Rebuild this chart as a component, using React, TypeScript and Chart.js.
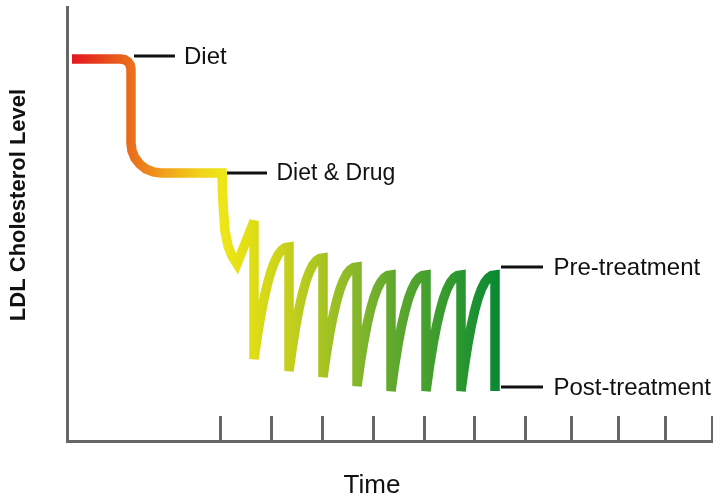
import React, { useEffect, useRef } from "react";
import { Chart, registerables } from "chart.js";

Chart.register(...registerables);

// Diet phase: level falls from the starting value to the first plateau
const dietTime = [1.0, 10.8, 11.57, 12.21, 12.65, 12.8, 12.8, 13.0, 13.6, 14.56, 15.8, 17.25, 18.8, 31.0];
const dietLevel = [95.5, 95.5, 95.31, 94.77, 93.96, 93.0, 74.5, 72.56, 70.75, 69.2, 68.0, 67.26, 67.0, 67.0];

// Diet & drug phase: first decline and first peak
const drugStartTime = [31.1, 31.3, 31.6, 32.2, 33.0, 34.0, 37.4, 37.4];
const drugStartLevel = [62.5, 57.5, 52.5, 48.75, 46.25, 44.25, 55.0, 20.5];

// Repeated post-treatment -> pre-treatment recovery cycles
const cycleTime = [
  38.1, 38.8, 39.5, 40.2, 40.9, 41.6, 42.3, 43.0, 43.7, 44.4, 44.4,
  45.08, 45.76, 46.44, 47.12, 47.8, 48.48, 49.16, 49.84, 50.52, 51.2, 51.2,
  51.88, 52.56, 53.24, 53.92, 54.6, 55.28, 55.96, 56.64, 57.32, 58.0, 58.0,
  58.68, 59.36, 60.04, 60.72, 61.4, 62.08, 62.76, 63.44, 64.12, 64.8, 64.8,
  65.5, 66.2, 66.9, 67.6, 68.3, 69.0, 69.7, 70.4, 71.1, 71.8, 71.8,
  72.5, 73.2, 73.9, 74.6, 75.3, 76.0, 76.7, 77.4, 78.1, 78.8, 78.8,
  79.48, 80.16, 80.84, 81.52, 82.2, 82.88, 83.56, 84.24, 84.92, 85.6, 85.6,
];
const cycleLevel = [
  26.52, 31.73, 36.18, 39.85, 42.82, 45.08, 46.74, 47.8, 48.36, 48.5, 17.5,
  23.57, 28.83, 33.32, 37.02, 40.02, 42.3, 43.97, 45.04, 45.61, 45.75, 16.0,
  21.91, 27.03, 31.4, 35.0, 37.92, 40.15, 41.77, 42.81, 43.36, 43.5, 13.75,
  19.72, 24.88, 29.29, 32.93, 35.87, 38.11, 39.75, 40.81, 41.36, 41.5, 12.5,
  18.74, 24.13, 28.74, 32.54, 35.61, 37.96, 39.67, 40.78, 41.36, 41.5, 12.5,
  18.74, 24.13, 28.74, 32.54, 35.61, 37.96, 39.67, 40.78, 41.36, 41.5, 12.5,
  18.74, 24.13, 28.74, 32.54, 35.61, 37.96, 39.67, 40.78, 41.36, 41.5, 12.5,
];

// Dose marks on the time axis
const doseTicks = [30.6, 40.8, 51.0, 61.2, 71.4, 81.4, 91.6, 100.8, 110.2, 119.6, 129.0];

// Annotations
const labelTexts = ["Diet", "Diet & Drug", "Pre-treatment", "Post-treatment"];
const labelTimes = [13.4, 32.0, 86.8, 86.8];
const labelLevels = [96.25, 67.0, 43.5, 13.5];

const xTitle = "Time";
const yTitle = "LDL Cholesterol Level";

// Colour ramp along time
const gradientTimes = [1, 10.6, 12.8, 19.6, 26.6, 31, 37.4, 44.6, 51.2, 58, 64.8, 71.8, 78.8, 85.6];
const gradientColors = [
  "#e3161f", "#e8601c", "#ea6e1c", "#f0a21c", "#f0d21a", "#eee617", "#dedd16",
  "#c4cf1c", "#a7c422", "#85b72a", "#62a92d", "#45a02d", "#2a962f", "#0b8a34",
];

const FONT = '"Liberation Sans", Arial, Helvetica, sans-serif';

export default function App() {
  const ref = useRef<HTMLCanvasElement>(null);

  useEffect(() => {
    document.body.style.margin = "0";
    const times = [...dietTime, ...drugStartTime, ...cycleTime];
    const levels = [...dietLevel, ...drugStartLevel, ...cycleLevel];
    const points = times.map((t, i) => ({ x: t, y: levels[i] }));

    const miterPlugin = {
      id: "miterLimit",
      beforeDatasetsDraw(chart: any) {
        chart.ctx.save();
        chart.ctx.miterLimit = 2.5;
      },
      afterDatasetsDraw(chart: any) {
        chart.ctx.restore();
      },
    };

    const leader = [41, 40, 42, 42];
    const gap = [9, 9.5, 10.5, 10.5];
    const sizes = [24, 23, 24, 24];

    const annotationPlugin = {
      id: "annotations",
      afterDraw(chart: any) {
        const { ctx, scales, chartArea } = chart;
        const xs = scales.x;
        const ys = scales.y;
        ctx.save();
        ctx.strokeStyle = "#111";
        ctx.lineWidth = 3;
        ctx.lineCap = "butt";
        ctx.fillStyle = "#111";
        ctx.textAlign = "left";
        ctx.textBaseline = "middle";
        labelTexts.forEach((t, i) => {
          const px = xs.getPixelForValue(labelTimes[i]);
          const py = ys.getPixelForValue(labelLevels[i]);
          ctx.beginPath();
          ctx.moveTo(px, py);
          ctx.lineTo(px + leader[i], py);
          ctx.stroke();
          ctx.font = `${sizes[i]}px ${FONT}`;
          ctx.fillText(t, px + leader[i] + gap[i], py + 1);
        });
        // x axis title
        ctx.textAlign = "center";
        ctx.textBaseline = "alphabetic";
        ctx.font = `26px ${FONT}`;
        ctx.fillText(xTitle, 372, chartArea.bottom + 52);
        // y axis title
        ctx.save();
        ctx.translate(24.5, 205);
        ctx.rotate(-Math.PI / 2);
        ctx.font = `bold 22px ${FONT}`;
        ctx.fillText(yTitle, 0, 0);
        ctx.restore();
        ctx.restore();
      },
    };

    const chart = new Chart(ref.current!, {
      type: "line",
      data: {
        datasets: [
          {
            data: points,
            borderWidth: 9.5,
            pointRadius: 0,
            tension: 0,
            fill: false,
            borderCapStyle: "butt",
            borderJoinStyle: "miter",
            borderColor: (c: any) => {
              const ch = c.chart;
              if (!ch.chartArea) return gradientColors[0];
              const xs = ch.scales.x;
              const x0 = xs.getPixelForValue(gradientTimes[0]);
              const x1 = xs.getPixelForValue(gradientTimes[gradientTimes.length - 1]);
              const g = ch.ctx.createLinearGradient(x0, 0, x1, 0);
              gradientTimes.forEach((t, i) => {
                const off = (xs.getPixelForValue(t) - x0) / (x1 - x0);
                g.addColorStop(Math.min(1, Math.max(0, off)), gradientColors[i]);
              });
              return g;
            },
          } as any,
        ],
      },
      options: {
        animation: false,
        responsive: true,
        maintainAspectRatio: false,
        layout: { padding: { top: 7, left: 0, right: 0, bottom: 0 } },
        plugins: {
          legend: { display: false },
          tooltip: { enabled: false },
        },
        events: [],
        scales: {
          x: {
            type: "linear",
            position: "bottom",
            min: 0,
            max: 129.2,
            afterBuildTicks: (scale: any) => {
              scale.ticks = doseTicks.map((v) => ({ value: v }));
            },
            afterFit: (scale: any) => {
              scale.height = 57;
            },
            ticks: { display: false },
            grid: {
              display: true,
              drawOnChartArea: false,
              drawTicks: true,
              tickLength: -25,
              color: "#666",
              lineWidth: 3,
            },
            border: { display: true, color: "#666", width: 3 },
          },
          y: {
            type: "linear",
            position: "left",
            min: 0,
            max: 108.5,
            afterFit: (scale: any) => {
              scale.width = 67;
            },
            ticks: { display: false },
            grid: { display: false },
            border: { display: true, color: "#666", width: 3 },
          },
        },
      },
      plugins: [miterPlugin, annotationPlugin],
    } as any);

    return () => chart.destroy();
  }, []);

  return (
    <div style={{ position: "relative", width: 713, height: 498 }}>
      <canvas ref={ref} />
    </div>
  );
}
